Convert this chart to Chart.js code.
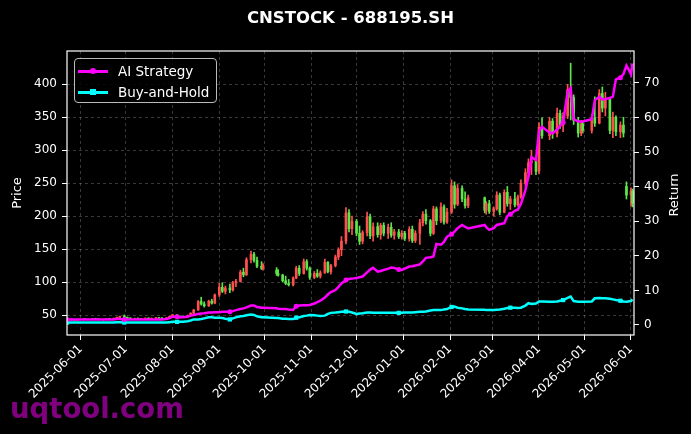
<!DOCTYPE html>
<html>
<head>
<meta charset="utf-8">
<script src="https://cdn.jsdelivr.net/npm/chart.js@4.4.0/dist/chart.umd.min.js"></script>
<style>
    html, body { margin: 0; padding: 0; background: #000; }
    #wrap { position: relative; width: 691px; height: 434px; overflow: hidden; }
    #title { position: absolute; left: 67px; width: 567px; top: 8px; text-align: center;
             color: #fff; font: bold 16.5px "DejaVu Sans"; line-height: 20px; }
    #rtitle { position: absolute; left: 644px; top: 187px; width: 60px; height: 16px; line-height: 16px;
              text-align: center; transform: rotate(-90deg); transform-origin: 30px 8px;
              color: #fff; font: 13px "DejaVu Sans"; white-space: nowrap; }
    #legend { position: absolute; left: 74px; top: 58px; width: 143px; height: 45px;
              border: 1px solid #bbb; border-radius: 4px; background: rgba(0,0,0,0.85); box-sizing: border-box; }
    .row { position: absolute; left: 0; width: 100%; height: 20px; }
    .ln { position: absolute; left: 3px; top: 9px; width: 30px; height: 2.5px; }
    .mk { position: absolute; left: 15px; top: 7px; width: 6px; height: 6px; }
    .dot { border-radius: 50%; }
    .tx { position: absolute; left: 43px; top: 1px; color: #fff; font: 13.5px "DejaVu Sans"; line-height: 18px; white-space: nowrap; }
    #wm { position: absolute; left: 10px; top: 395px; color: #800080; font: bold 27.5px "DejaVu Sans"; line-height: 27px; }
</style>
</head>
<body>
<div id="wrap">
    <canvas id="chart" width="691" height="434"></canvas>
    <div id="title">CNSTOCK - 688195.SH</div>
    <div id="rtitle">Return</div>
    <div id="legend">
        <div class="row" style="top:2px"><span class="ln" style="background:#ff00ff"></span><span class="mk dot" style="background:#ff00ff"></span><span class="tx">AI Strategy</span></div>
        <div class="row" style="top:23px"><span class="ln" style="background:#00ffff"></span><span class="mk" style="background:#00ffff"></span><span class="tx">Buy-and-Hold</span></div>
    </div>
    <div id="wm">uqtool.com</div>
</div>
<script>
// trading days shown (about three per week)
const dates = [
    "2025-05-23","2025-05-26","2025-05-28","2025-05-30",
    "2025-06-03","2025-06-04","2025-06-06","2025-06-09","2025-06-11","2025-06-13","2025-06-16","2025-06-18","2025-06-20","2025-06-23","2025-06-25","2025-06-27","2025-06-30",
    "2025-07-02","2025-07-04","2025-07-07","2025-07-09","2025-07-11","2025-07-14","2025-07-16","2025-07-18","2025-07-21","2025-07-23","2025-07-25","2025-07-28","2025-07-30",
    "2025-08-01","2025-08-04","2025-08-06","2025-08-08","2025-08-11","2025-08-13","2025-08-15","2025-08-18","2025-08-20","2025-08-22","2025-08-25","2025-08-27","2025-08-29",
    "2025-09-01","2025-09-03","2025-09-05","2025-09-08","2025-09-10","2025-09-12","2025-09-15","2025-09-17","2025-09-19","2025-09-22","2025-09-24","2025-09-26","2025-09-29","2025-09-30",
    "2025-10-09","2025-10-10","2025-10-13","2025-10-15","2025-10-17","2025-10-20","2025-10-22","2025-10-24","2025-10-27","2025-10-29","2025-10-31",
    "2025-11-03","2025-11-05","2025-11-07","2025-11-10","2025-11-12","2025-11-14","2025-11-17","2025-11-19","2025-11-21","2025-11-24","2025-11-26","2025-11-28",
    "2025-12-01","2025-12-03","2025-12-05","2025-12-08","2025-12-10","2025-12-12","2025-12-15","2025-12-17","2025-12-19","2025-12-22","2025-12-24","2025-12-26","2025-12-29","2025-12-31",
    "2026-01-02","2026-01-05","2026-01-07","2026-01-09","2026-01-12","2026-01-14","2026-01-16","2026-01-19","2026-01-21","2026-01-23","2026-01-26","2026-01-28","2026-01-30",
    "2026-02-02","2026-02-04","2026-02-06","2026-02-09","2026-02-11","2026-02-13","2026-02-24","2026-02-25","2026-02-27",
    "2026-03-02","2026-03-04","2026-03-06","2026-03-09","2026-03-11","2026-03-13","2026-03-16","2026-03-18","2026-03-20","2026-03-23","2026-03-25","2026-03-27","2026-03-30",
    "2026-04-01","2026-04-03","2026-04-08","2026-04-10","2026-04-13","2026-04-15","2026-04-17","2026-04-20","2026-04-22","2026-04-24","2026-04-27","2026-04-29","2026-04-30",
    "2026-05-06","2026-05-08","2026-05-11","2026-05-13","2026-05-15","2026-05-18","2026-05-20","2026-05-22","2026-05-25","2026-05-27","2026-05-29",
    "2026-06-01","2026-06-02"
];

const opens = [
    42.0,42.6,43.2,42.4,
    43.0,43.8,43.3,43.6,44.5,43.9,43.0,43.5,44.2,44.0,45.0,46.2,47.8,
    46.5,45.4,44.6,44.9,44.3,44.8,45.3,44.7,45.2,45.9,45.4,44.9,46.0,
    47.9,50.3,48.0,47.2,47.8,49.4,52.8,57.6,70.5,66.8,64.0,71.0,68.0,
    80.5,92,86,91,88,98.5,101,115,111,134,142,133,124,121,
    118,113,110.5,102,98,96,106,121,113,131,121,
    107,113,109,114,130,116,125,138,149,162,205,181,
    192,174,162,175,199,170,184,172,186,174,183,171,176,169,
    174,166,180,163,174,190,203,193,174,211,193,214,191,
    206,246,218,242,226,216,228,209,219,
    207,211,232,206,236,219,226,217,229,250,266,281,284,
    268,335,322,344,325,356,338,352,392,380,345,326,340,
    330,349,341,386,364,378,330,350,328,338,245,
    232,238
];
const highs = [
    43.5,44.0,43.8,43.6,
    44.2,44.6,44.0,45.0,45.2,44.4,43.9,44.8,45.1,45.5,47.0,48.5,50.2,
    47.2,46.0,45.3,45.6,45.1,45.7,46.0,45.5,46.4,46.6,46.1,46.3,48.5,
    51.2,50.8,48.9,48.4,50.0,53.5,58.8,72.0,77.0,70.0,72.5,74.0,82.0,
    98,99,94,97,101,104,118,121,137,147,145,138,131,128,
    122,119,112,109,104,108,124,125,135,134,123,
    116,119,117,135,131,127,141,152,169,213,210,200,
    195,185,178,206,203,190,190,189,190,188,190,180,180,178,
    177,184,185,178,195,207,210,195,215,214,220,217,212,
    255,252,248,246,237,232,229,222,224,
    214,237,235,240,245,230,236,232,255,272,287,300,288,
    342,349,350,348,364,361,357,400,432,384,350,345,343,
    354,381,392,396,388,380,358,352,343,350,252,
    243,241
];
const lows = [
    41.2,41.8,42.0,41.9,
    42.5,42.9,42.6,43.1,43.4,42.7,42.2,43.0,43.6,43.5,44.6,45.5,46.0,
    45.0,44.2,43.6,44.0,43.5,44.1,44.4,44.0,44.8,45.0,44.5,44.6,45.6,
    47.0,47.5,46.6,46.5,47.3,49.0,52.0,57.0,65.0,62.0,63.0,66.5,67.0,
    78,84,82,84,86,93,100,108,110,129,130,122,119,118,
    110,109,100,96,94,94,105,110,112,118,104,
    105,107,106,113,114,112,123,134,140,158,176,172,
    170,157,158,170,166,162,168,165,170,166,168,165,166,165,
    163,162,160,160,157,185,188,170,172,187,190,188,189,
    204,212,216,222,212,213,205,203,204,
    200,209,202,205,215,210,214,215,227,245,258,263,263,
    264,318,316,318,320,333,328,348,346,339,320,322,326,
    326,336,340,358,352,325,319,322,319,320,226,
    215,214
];
const closes = [
    42.6,43.2,42.4,43.1,
    43.8,43.3,43.6,44.5,43.9,43.0,43.5,44.2,44.0,45.0,46.2,47.8,46.5,
    45.4,44.6,44.9,44.3,44.8,45.3,44.7,45.2,45.9,45.4,44.9,46.0,47.9,
    50.3,48.0,47.2,47.8,49.4,52.8,57.6,70.5,66.8,64.0,71.0,68.0,80.5,
    92,86,91,88,98.5,101,115,111,134,142,133,124,121,126,
    113,110.5,102,98,96,106,121,113,131,121,107,
    113,109,114,130,116,125,138,149,162,205,181,192,
    174,162,175,199,170,184,172,186,174,183,171,176,169,174,
    166,180,163,174,190,203,193,174,211,193,214,191,206,
    246,218,242,226,216,228,209,219,207,
    211,232,206,236,219,226,217,229,250,266,281,284,268,
    335,322,344,325,356,338,352,392,380,345,326,340,330,
    349,341,386,364,378,330,350,328,338,326,232,
    238,220
];

// cumulative return, right axis
const strategyReturn = [
    1.6,1.6,1.6,1.6,
    1.6,1.6,1.6,1.6,1.6,1.6,1.6,1.6,1.6,1.6,1.7,1.7,1.6,
    1.6,1.6,1.6,1.6,1.6,1.6,1.6,1.6,1.6,1.6,1.6,1.7,2.0,
    2.4,2.4,2.2,2.2,2.4,2.7,2.9,3.2,3.3,3.4,3.6,3.6,3.7,
    3.7,3.8,3.8,3.8,4.0,4.3,4.6,4.8,5.1,5.6,5.6,5.2,5.0,5.0,
    4.8,4.7,4.6,4.6,4.5,4.4,5.4,5.6,5.7,5.7,5.8,
    6.2,6.6,7.0,7.9,8.8,9.5,10.1,11.0,12.0,13.0,13.3,13.4,
    13.6,13.8,14.0,15.2,16.0,16.5,15.4,15.6,15.9,16.3,16.6,16.5,16.0,15.9,
    16.3,16.9,17.0,17.2,17.5,18.4,19.4,19.6,19.8,23.4,23.2,24.0,25.5,
    26.2,27.0,28.0,28.9,28.4,27.9,28.9,28.3,27.5,
    28.0,28.9,29.1,29.4,31.5,32.0,33.0,33.4,35.0,39.0,43.0,48.5,47.7,
    56.0,57.3,55.6,55.4,56.5,57.5,58.6,67.5,68.5,59.5,58.8,58.8,58.8,
    59.5,65.0,66.0,65.2,65.3,65.6,66.0,71.0,71.5,72.5,75.0,
    72.5,75.6
];
const buyHoldReturn = [
    0.7,0.7,0.7,0.7,
    0.7,0.7,0.7,0.7,0.7,0.7,0.7,0.7,0.7,0.7,0.8,0.8,0.7,
    0.7,0.7,0.7,0.7,0.7,0.7,0.7,0.7,0.7,0.7,0.7,0.7,0.8,
    0.9,0.9,0.9,0.9,1.1,1.3,1.6,1.6,1.7,1.9,2.2,2.2,2.1,
    2.1,2.0,1.8,1.6,1.9,2.2,2.5,2.6,2.8,3.0,2.9,2.5,2.2,2.2,
    2.0,2.0,1.8,1.8,1.7,1.7,2.1,2.2,2.6,2.7,2.9,
    2.8,2.7,2.6,2.7,3.2,3.5,3.6,3.7,3.8,3.9,3.8,3.6,
    3.2,3.3,3.4,3.6,3.6,3.5,3.5,3.5,3.5,3.5,3.5,3.5,3.5,3.5,
    3.6,3.6,3.6,3.7,3.8,3.8,3.9,4.2,4.3,4.3,4.3,4.5,4.6,
    5.2,5.3,5.0,4.8,4.6,4.5,4.4,4.3,4.3,
    4.3,4.4,4.5,4.7,4.9,5.0,5.0,4.9,5.0,5.6,6.3,6.1,6.2,
    6.8,6.8,6.7,6.7,6.8,7.0,7.2,7.8,8.2,6.9,6.7,6.7,6.7,
    6.8,7.7,7.8,7.7,7.7,7.6,7.4,7.2,7.0,6.8,6.7,
    6.9,7.4
];

const markerDates = ["2025-05-23","2025-06-30","2025-08-04","2025-09-08","2025-10-22","2025-11-24",
                     "2025-12-29","2026-02-02","2026-03-13","2026-04-17","2026-05-25"];
const monthTicks = ["2025-06-01","2025-07-01","2025-08-01","2025-09-01","2025-10-01","2025-11-01","2025-12-01",
                    "2026-01-01","2026-02-01","2026-03-01","2026-04-01","2026-05-01","2026-06-01"];
const priceTicks = [50, 100, 150, 200, 250, 300, 350, 400];
const returnTicks = [0, 10, 20, 30, 40, 50, 60, 70];

const toTs = s => Date.parse(s);
const xs = dates.map(toTs);
const markers = new Set(markerDates);

const upColor = "#ff4f4f";
const downColor = "#5ce64a";
const candleColors = dates.map((d, i) => closes[i] >= opens[i] ? upColor : downColor);

const gridColor = "rgba(255,255,255,0.28)";
const tickFont = { family: "DejaVu Sans", size: 12 };
const labelFont = { family: "DejaVu Sans", size: 13 };

const framePlugin = {
    id: "frame",
    afterDatasetsDraw(chart) {
        const { ctx, chartArea: a } = chart;
        ctx.save();
        ctx.strokeStyle = "#fff";
        ctx.lineWidth = 1.2;
        ctx.strokeRect(a.left, a.top, a.right - a.left, a.bottom - a.top);
        ctx.restore();
    }
};

new Chart(document.getElementById("chart"), {
    type: "bar",
    data: {
        datasets: [
            {
                type: "line",
                label: "AI Strategy",
                data: xs.map((x, i) => ({ x, y: strategyReturn[i] })),
                yAxisID: "y1",
                borderColor: "#ff00ff",
                backgroundColor: "#ff00ff",
                borderWidth: 2.5,
                pointStyle: "circle",
                pointRadius: c => markers.has(dates[c.dataIndex]) ? 2.5 : 0,
                pointBorderWidth: 0,
                order: 0
            },
            {
                type: "line",
                label: "Buy-and-Hold",
                data: xs.map((x, i) => ({ x, y: buyHoldReturn[i] })),
                yAxisID: "y1",
                borderColor: "#00ffff",
                backgroundColor: "#00ffff",
                borderWidth: 2.5,
                pointStyle: "rect",
                pointRadius: c => markers.has(dates[c.dataIndex]) ? 3 : 0,
                pointBorderWidth: 0,
                order: 1
            },
            {
                label: "body",
                data: xs.map((x, i) => ({ x, y: [opens[i], closes[i]] })),
                yAxisID: "y",
                backgroundColor: candleColors,
                barThickness: 2,
                grouped: false,
                order: 2
            },
            {
                label: "wick",
                data: xs.map((x, i) => ({ x, y: [lows[i], highs[i]] })),
                yAxisID: "y",
                backgroundColor: candleColors,
                barThickness: 1,
                grouped: false,
                order: 3
            }
        ]
    },
    options: {
        responsive: false,
        animation: false,
        devicePixelRatio: 1,
        layout: { padding: { top: 51, left: 0, right: 0, bottom: 0 } },
        plugins: { legend: { display: false }, tooltip: { enabled: false }, title: { display: false } },
        scales: {
            x: {
                type: "linear",
                min: toTs("2025-05-23"),
                max: toTs("2026-06-03"),
                offset: false,
                afterBuildTicks: s => { s.ticks = monthTicks.map(m => ({ value: toTs(m) })); },
                afterFit: s => { s.height = 99; },
                grid: { color: gridColor, lineWidth: 0.8, offset: false, tickColor: "#fff", tickLength: 5, tickBorderDash: [], tickWidth: 1 },
                border: { display: false, dash: [3, 3] },
                ticks: {
                    color: "#fff", font: tickFont, autoSkip: false, minRotation: 45, maxRotation: 45, padding: 2,
                    callback: v => new Date(v).toISOString().slice(0, 10)
                }
            },
            y: {
                position: "left",
                min: 19.7,
                max: 450.5,
                afterBuildTicks: s => { s.ticks = priceTicks.map(v => ({ value: v })); },
                afterFit: s => { s.width = 67; },
                grid: { color: gridColor, lineWidth: 0.8, tickColor: "#fff", tickLength: 5, tickBorderDash: [], tickWidth: 1 },
                border: { display: false, dash: [3, 3] },
                ticks: { color: "#fff", font: tickFont, padding: 5 },
                title: { display: true, text: "Price", color: "#fff", font: labelFont, padding: { top: 10, bottom: 4 } }
            },
            y1: {
                position: "right",
                min: -2.9,
                max: 79.2,
                afterBuildTicks: s => { s.ticks = returnTicks.map(v => ({ value: v })); },
                afterFit: s => { s.width = 57; },
                grid: { drawOnChartArea: false, tickColor: "#fff", tickLength: 5, tickWidth: 1 },
                border: { display: false },
                ticks: { color: "#fff", font: tickFont, padding: 5 },
                title: { display: false }
            }
        }
    },
    plugins: [framePlugin]
});
</script>
</body>
</html>
